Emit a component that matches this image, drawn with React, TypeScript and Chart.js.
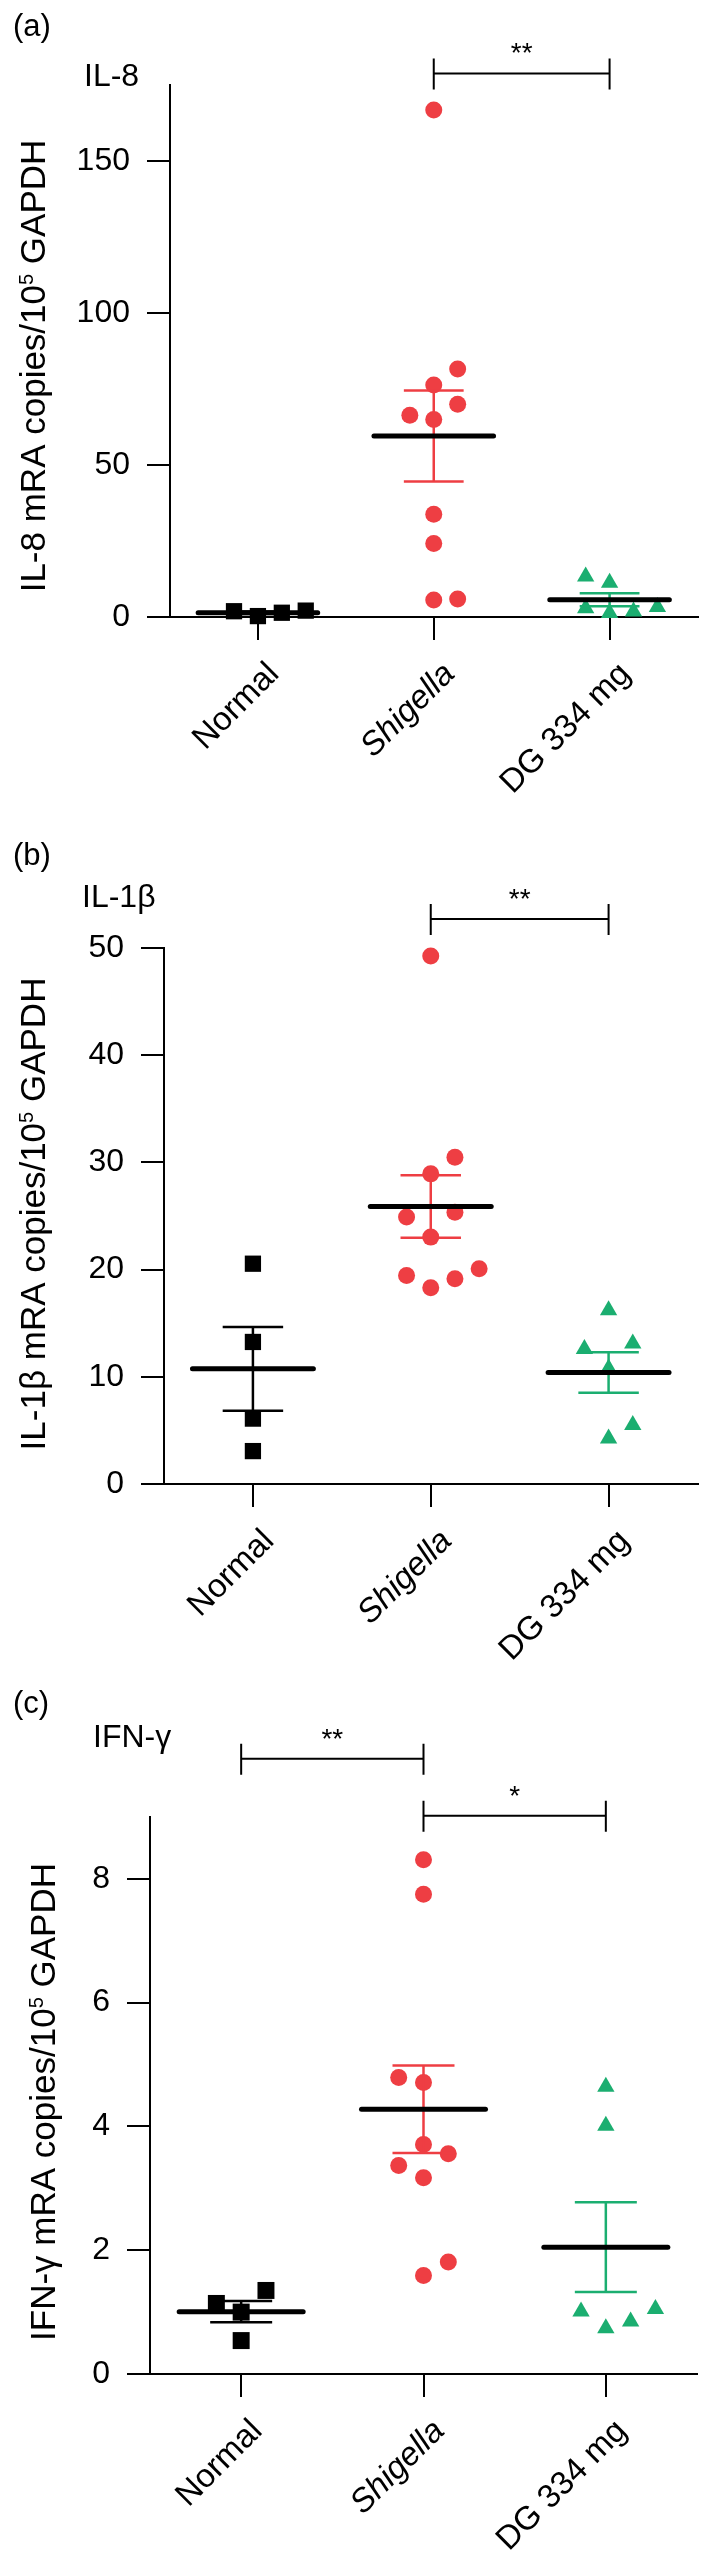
import React, { useEffect, useRef } from 'react';
import { Chart, registerables } from 'chart.js';

Chart.register(...registerables);

const FONT = '"Liberation Sans", Arial, Helvetica, sans-serif';
const BLACK = '#000000';
const RED = '#EE3E43';
const GREEN = '#1BAE70';

const categories = ['Normal', 'Shigella', 'DG 334 mg'];
const JITTER = 0.136;

// (a) IL-8
const il8Ticks = [0, 50, 100, 150];
const il8Normal = [1.9, 0.3, 1.4, 2.1];
const il8NormalCols = [-1, 0, 1, 2];
const il8Shigella = [166.8, 81.6, 76.3, 70.0, 66.4, 65.0, 33.8, 24.2, 5.6, 5.9];
const il8ShigellaCols = [0, 1, 0, 1, -1, 0, 0, 0, 0, 1];
const il8DG = [13.3, 11.3, 2.9, 1.3, 1.8, 3.3];
const il8DGCols = [-1, 0, -1, 0, 1, 2];
const il8Brackets = [{ from: 1, to: 2, y: 178.8, label: '**' }];

// (b) IL-1β
const il1bTicks = [0, 10, 20, 30, 40, 50];
const il1bNormal = [20.55, 13.25, 6.1, 3.07];
const il1bNormalCols = [0, 0, 0, 0];
const il1bShigella = [49.25, 30.47, 28.93, 24.9, 25.35, 23.03, 19.46, 18.3, 19.15, 20.08];
const il1bShigellaCols = [0, 1, 0, -1, 1, 0, -1, 0, 1, 2];
const il1bDG = [16.2, 12.6, 13.1, 10.77, 5.5, 4.25];
const il1bDGCols = [0, -1, 1, 0, 1, 0];
const il1bBrackets = [{ from: 1, to: 2, y: 52.7, label: '**' }];

// (c) IFN-γ
const ifngTicks = [0, 2, 4, 6, 8];
const ifngNormal = [1.14, 1.0, 1.35, 0.54];
const ifngNormalCols = [-1, 0, 1, 0];
const ifngShigella = [8.31, 7.75, 4.79, 4.71, 3.71, 3.56, 3.37, 3.17, 1.81, 1.59];
const ifngShigellaCols = [0, 0, -1, 0, 0, 1, -1, 0, 1, 0];
const ifngDG = [4.64, 4.01, 1.01, 0.74, 0.85, 1.05];
const ifngDGCols = [0, 0, -1, 0, 1, 2];
const ifngBrackets = [
  { from: 0, to: 1, y: 9.94, label: '**' },
  { from: 1, to: 2, y: 9.02, label: '*' },
];

type Bracket = { from: number; to: number; y: number; label: string };
type Panel = {
  offset: number;
  height: number;
  area: { left: number; top: number; right: number; bottom: number };
  yMax: number;
  yTicks: number[];
  normal: number[]; normalCols: number[];
  shig: number[]; shigCols: number[];
  dg: number[]; dgCols: number[];
  rectR: number;
  brackets: Bracket[];
  letter: string; letterPos: [number, number];
  name: string; namePos: [number, number];
  title: [string, string, string]; titleX: number; titleCY: number;
};

const PANELS: Panel[] = [
  {
    offset: 0, height: 820,
    area: { left: 170, top: 85, right: 707, bottom: 617 },
    yMax: 175, yTicks: il8Ticks,
    normal: il8Normal, normalCols: il8NormalCols,
    shig: il8Shigella, shigCols: il8ShigellaCols,
    dg: il8DG, dgCols: il8DGCols,
    rectR: 11.5,
    brackets: il8Brackets,
    letter: '(a)', letterPos: [13, 36],
    name: 'IL-8', namePos: [84, 86],
    title: ['IL-8 mRA copies/10', '5', ' GAPDH'], titleX: 45, titleCY: 366,
  },
  {
    offset: 820, height: 860,
    area: { left: 164, top: 128, right: 707, bottom: 664 },
    yMax: 50, yTicks: il1bTicks,
    normal: il1bNormal, normalCols: il1bNormalCols,
    shig: il1bShigella, shigCols: il1bShigellaCols,
    dg: il1bDG, dgCols: il1bDGCols,
    rectR: 11.5,
    brackets: il1bBrackets,
    letter: '(b)', letterPos: [13, 45],
    name: 'IL-1β', namePos: [82, 87],
    title: ['IL-1β mRA copies/10', '5', ' GAPDH'], titleX: 45, titleCY: 394,
  },
  {
    offset: 1680, height: 887,
    area: { left: 150, top: 137, right: 707, bottom: 694 },
    yMax: 9, yTicks: ifngTicks,
    normal: ifngNormal, normalCols: ifngNormalCols,
    shig: ifngShigella, shigCols: ifngShigellaCols,
    dg: ifngDG, dgCols: ifngDGCols,
    rectR: 12,
    brackets: ifngBrackets,
    letter: '(c)', letterPos: [13, 33],
    name: 'IFN-γ', namePos: [93, 67],
    title: ['IFN-γ mRA copies/10', '5', ' GAPDH'], titleX: 55, titleCY: 422,
  },
];

function seg(x1: number, y1: number, x2: number, y2: number, color: string, w: number, order: number, cap: string) {
  return {
    data: [{ x: x1, y: y1 }, { x: x2, y: y2 }],
    showLine: true,
    borderColor: color,
    borderWidth: w,
    borderCapStyle: cap,
    pointRadius: 0,
    pointHoverRadius: 0,
    fill: false,
    clip: false,
    order,
  };
}

function groupDatasets(idx: number, values: number[], cols: number[], color: string, pointStyle: string, radius: number) {
  const pts = values.map((v, i) => ({ x: idx + cols[i] * JITTER, y: v }));
  const n = values.length;
  const mean = values.reduce((a, b) => a + b, 0) / n;
  const sd = Math.sqrt(values.reduce((a, b) => a + (b - mean) * (b - mean), 0) / (n - 1));
  const sem = sd / Math.sqrt(n);
  return [
    {
      data: pts,
      pointStyle,
      pointRadius: radius,
      pointHoverRadius: radius,
      pointBackgroundColor: color,
      backgroundColor: color,
      pointBorderWidth: 0,
      borderWidth: 0,
      showLine: false,
      clip: false,
      order: 3,
    },
    seg(idx, mean - sem, idx, mean + sem, color, 2.5, 2, 'butt'),
    seg(idx - 0.17, mean + sem, idx + 0.17, mean + sem, color, 2.5, 2, 'butt'),
    seg(idx - 0.17, mean - sem, idx + 0.17, mean - sem, color, 2.5, 2, 'butt'),
    seg(idx - 0.34, mean, idx + 0.34, mean, BLACK, 5, 1, 'round'),
  ];
}

function decorPlugin(p: Panel) {
  return {
    id: 'decor',
    afterDraw(chart: any) {
      const ctx = chart.ctx as CanvasRenderingContext2D;
      const xs = chart.scales.x;
      const ys = chart.scales.y;
      ctx.save();
      ctx.fillStyle = BLACK;
      ctx.strokeStyle = BLACK;
      ctx.textAlign = 'left';
      ctx.textBaseline = 'alphabetic';
      ctx.font = `31px ${FONT}`;
      ctx.fillText(p.letter, p.letterPos[0], p.letterPos[1]);
      ctx.font = `32px ${FONT}`;
      ctx.fillText(p.name, p.namePos[0], p.namePos[1]);

      // y-axis title with superscript
      const big = `35px ${FONT}`;
      const small = `20px ${FONT}`;
      ctx.font = big;
      const w1 = ctx.measureText(p.title[0]).width;
      const w3 = ctx.measureText(p.title[2]).width;
      ctx.font = small;
      const w2 = ctx.measureText(p.title[1]).width;
      const total = w1 + w2 + w3;
      ctx.save();
      ctx.translate(p.titleX, p.titleCY);
      ctx.rotate(-Math.PI / 2);
      let x = -total / 2;
      ctx.font = big;
      ctx.fillText(p.title[0], x, 0);
      x += w1;
      ctx.font = small;
      ctx.fillText(p.title[1], x, -12);
      x += w2;
      ctx.font = big;
      ctx.fillText(p.title[2], x, 0);
      ctx.restore();

      // significance brackets
      ctx.lineWidth = 2;
      ctx.textAlign = 'center';
      ctx.font = `28px ${FONT}`;
      for (const b of p.brackets) {
        const x1 = xs.getPixelForValue(b.from);
        const x2 = xs.getPixelForValue(b.to);
        const y = ys.getPixelForValue(b.y);
        ctx.beginPath();
        ctx.moveTo(x1, y);
        ctx.lineTo(x2, y);
        ctx.moveTo(x1, y - 15);
        ctx.lineTo(x1, y + 16);
        ctx.moveTo(x2, y - 15);
        ctx.lineTo(x2, y + 16);
        ctx.stroke();
        ctx.fillText(b.label, (x1 + x2) / 2, y - 11);
      }
      ctx.restore();
    },
  };
}

function buildConfig(p: Panel): any {
  const datasets = [
    ...groupDatasets(0, p.normal, p.normalCols, BLACK, 'rect', p.rectR),
    ...groupDatasets(1, p.shig, p.shigCols, RED, 'circle', 8.5),
    ...groupDatasets(2, p.dg, p.dgCols, GREEN, 'triangle', 10),
  ];
  const W = 709;
  const axisLine = { display: true, color: BLACK, width: 2 };
  const gridTicks = { display: true, drawOnChartArea: false, drawTicks: true, tickLength: 23, color: BLACK, lineWidth: 2 };
  return {
    type: 'scatter',
    data: { datasets },
    options: {
      animation: false,
      responsive: false,
      maintainAspectRatio: false,
      devicePixelRatio: 1,
      events: [],
      layout: { padding: { top: p.area.top, right: W - p.area.right, bottom: 0, left: 0 } },
      plugins: { legend: { display: false }, tooltip: { enabled: false } },
      scales: {
        x: {
          type: 'linear',
          min: -0.5,
          max: 2.5,
          afterBuildTicks: (s: any) => {
            s.ticks = categories.map((_, i) => ({ value: i }));
          },
          afterFit: (s: any) => {
            s.height = p.height - p.area.bottom;
          },
          ticks: {
            autoSkip: false,
            minRotation: 45,
            maxRotation: 45,
            labelOffset: 16,
            padding: 15,
            color: BLACK,
            font: (c: any) => ({
              family: FONT,
              size: 33,
              style: c.tick && c.tick.value === 1 ? 'italic' : 'normal',
            }),
            callback: (v: any) => categories[Math.round(Number(v))],
          },
          grid: gridTicks,
          border: axisLine,
        },
        y: {
          type: 'linear',
          min: 0,
          max: p.yMax,
          afterBuildTicks: (s: any) => {
            s.ticks = p.yTicks.map((v) => ({ value: v }));
          },
          afterFit: (s: any) => {
            s.width = p.area.left;
          },
          ticks: {
            padding: 17,
            color: BLACK,
            font: { family: FONT, size: 32 },
            callback: (v: any) => String(v),
          },
          grid: gridTicks,
          border: axisLine,
        },
      },
    },
    plugins: [decorPlugin(p)],
  };
}

export default function App() {
  const r0 = useRef<HTMLCanvasElement>(null);
  const r1 = useRef<HTMLCanvasElement>(null);
  const r2 = useRef<HTMLCanvasElement>(null);
  const refs = [r0, r1, r2];

  useEffect(() => {
    const charts = PANELS.map((p, i) => new Chart(refs[i].current as HTMLCanvasElement, buildConfig(p)));
    return () => charts.forEach((c) => c.destroy());
  }, []);

  return (
    <div style={{ position: 'absolute', left: 0, top: 0, width: 709, height: 2567, background: '#ffffff' }}>
      {PANELS.map((p, i) => (
        <canvas
          key={i}
          ref={refs[i]}
          width={709}
          height={p.height}
          style={{ position: 'absolute', left: 0, top: p.offset, width: 709, height: p.height }}
        />
      ))}
    </div>
  );
}
